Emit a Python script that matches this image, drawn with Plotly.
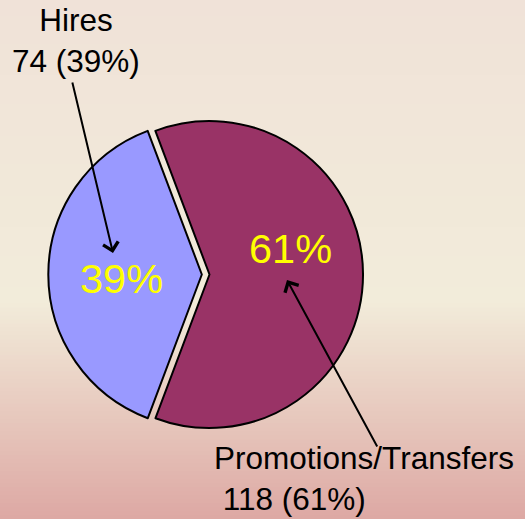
import plotly.graph_objects as go

# ---- data ----
labels = ["Hires", "Promotions/Transfers"]
values = [74, 118]
colors = ["#9999FF", "#993366"]

W, H = 525, 519
total = sum(values)
pcts = [round(v * 100 / total) for v in values]

fig = go.Figure()
fig.add_trace(go.Pie(
    labels=labels, values=values, sort=False, direction="counterclockwise",
    rotation=-159.4, pull=[0.05, 0],
    marker=dict(colors=colors, line=dict(color="black", width=2)),
    textinfo="none", hoverinfo="label+value+percent", showlegend=False,
    domain=dict(x=[48.3 / W, 370.7 / W], y=[83.3 / H, 405.7 / H]),
))

# background gradient as horizontal bands
def lerp(c1, c2, t):
    return tuple(round(a + (b - a) * t) for a, b in zip(c1, c2))

stops = [(0.0, (240, 226, 216)), (0.58, (242, 236, 218)), (1.0, (221, 168, 163))]
def grad(t):
    for (t0, c0), (t1, c1) in zip(stops[:-1], stops[1:]):
        if t <= t1:
            return lerp(c0, c1, (t - t0) / (t1 - t0))
    return stops[-1][1]

shapes = []
n = 130
for i in range(n):
    y0 = i / n
    t = 1 - (i + 0.5) / n  # t=0 top
    c = grad(t)
    shapes.append(dict(type="rect", xref="paper", yref="paper", x0=0, x1=1,
                       y0=y0, y1=(i + 1) / n + 0.002, line=dict(width=0),
                       fillcolor="rgb(%d,%d,%d)" % c, layer="below"))

font = "Liberation Sans, Arial, sans-serif"
annotations = [
    # percentages in slices
    dict(x=121 / W, y=1 - 278 / H, xref="paper", yref="paper", showarrow=False,
         xanchor="center", yanchor="middle",
         text=f"{pcts[0]}%", font=dict(family=font, size=41.5, color="#FFFF00")),
    dict(x=290 / W, y=1 - 249 / H, xref="paper", yref="paper", showarrow=False,
         xanchor="center", yanchor="middle",
         text=f"{pcts[1]}%", font=dict(family=font, size=41.5, color="#FFFF00")),
    # callout labels
    dict(x=76 / W, y=1, xref="paper", yref="paper", showarrow=False,
         xanchor="center", yanchor="top", align="center",
         text=f"{labels[0]}<br>{values[0]} ({pcts[0]}%)",
         font=dict(family=font, size=31.5, color="black")),
    dict(x=212 / W, y=0, xref="paper", yref="paper", showarrow=False,
         xanchor="left", yanchor="bottom", align="left",
         text=f"{labels[1]}<br>\u00a0{values[1]} ({pcts[1]}%)",
         font=dict(family=font, size=31.5, color="black")),
    # arrows
    dict(x=113 / W, y=1 - 253 / H, xref="paper", yref="paper", text="",
         showarrow=True, ax=-41, ay=-172, arrowhead=4, arrowsize=1.5,
         arrowwidth=2, arrowcolor="black", standoff=0),
    dict(x=287 / W, y=1 - 280 / H, xref="paper", yref="paper", text="",
         showarrow=True, ax=91, ay=168, arrowhead=4, arrowsize=1.5,
         arrowwidth=2, arrowcolor="black", standoff=0),
]

fig.update_layout(
    width=W, height=H, margin=dict(l=0, r=0, t=0, b=0),
    paper_bgcolor="#F0E6DA", plot_bgcolor="rgba(0,0,0,0)",
    shapes=shapes, annotations=annotations,
)
fig.write_html("out.html", config={"displayModeBar": False},
               post_script="document.body.style.margin='0';document.body.style.overflow='hidden';")
